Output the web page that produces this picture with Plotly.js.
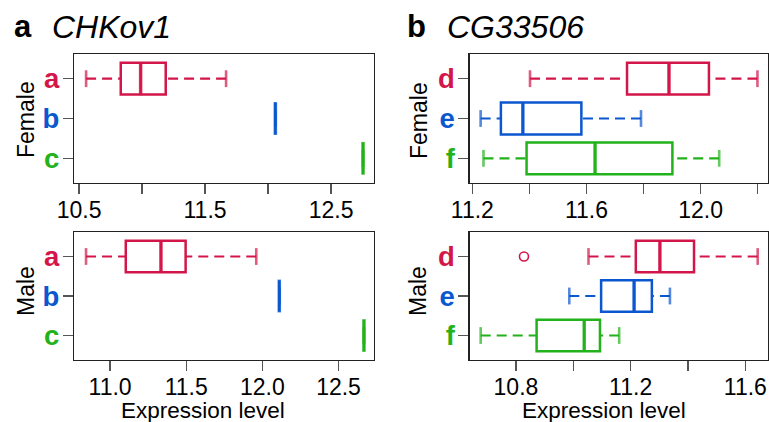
<!DOCTYPE html>
<html><head><meta charset="utf-8">
<script src="https://cdn.plot.ly/plotly-3.0.1.min.js"></script>
<style>html,body{margin:0;padding:0;background:#fff}#chart{width:769px;height:422px}</style>
</head><body><div id="chart"></div>
<script>
// ---------- data ----------
const panelLetters = ['a', 'b'];
const geneNames = ['CHKov1', 'CG33506'];
const sexes = ['Female', 'Male'];
const xTitle = 'Expression level';
const catsA = ['a', 'b', 'c'];
const catsB = ['d', 'e', 'f'];
const catColors = ['#d3164a', '#0b57d0', '#22b21b'];
// box stats per category: [lower whisker, Q1, median, Q3, upper whisker]
const femaleA = [
  [10.556, 10.831, 10.989, 11.188, 11.667],
  [12.058, 12.058, 12.058, 12.058, 12.058],
  [12.754, 12.754, 12.754, 12.754, 12.754]
];
const maleA = [
  [10.842, 11.103, 11.334, 11.496, 11.960],
  [12.111, 12.111, 12.111, 12.111, 12.111],
  [12.667, 12.667, 12.667, 12.667, 12.667]
];
const femaleB = [
  [11.402, 11.742, 11.889, 12.029, 12.199],
  [11.229, 11.300, 11.377, 11.582, 11.791],
  [11.239, 11.390, 11.630, 11.901, 12.065]
];
const maleB = [
  [11.053, 11.218, 11.302, 11.421, 11.643],
  [10.986, 11.097, 11.212, 11.274, 11.337],
  [10.677, 10.872, 11.038, 11.093, 11.160]
];
const outlierMaleB_cat = ['d'];
const outlierMaleB_x = [10.828];
const ticksFemaleA = [10.5, 11.0, 11.5, 12.0, 12.5];
const labelsFemaleA = ['10.5', '', '11.5', '', '12.5'];
const ticksMaleA = [11.0, 11.5, 12.0, 12.5];
const labelsMaleA = ['11.0', '11.5', '12.0', '12.5'];
const ticksFemaleB = [11.2, 11.4, 11.6, 11.8, 12.0, 12.2];
const labelsFemaleB = ['11.2', '', '11.6', '', '12.0', ''];
const ticksMaleB = [10.8, 11.0, 11.2, 11.4, 11.6];
const labelsMaleB = ['10.8', '', '11.2', '', '11.6'];

// ---------- build ----------
const W = 769, H = 422;
const FONT = 'Liberation Sans, Arial, sans-serif';
const traces = [];

function addGroup(stats, cats, xa, ya) {
  cats.forEach((c, i) => {
    const s = stats[i], col = catColors[i];
    traces.push({
      type: 'box', orientation: 'h', y: [i],
      q1: [s[1]], median: [s[2]], q3: [s[3]], lowerfence: [s[1]], upperfence: [s[3]],
      width: 0.8, whiskerwidth: 0, boxpoints: false,
      line: { color: col, width: 2.5 }, fillcolor: 'rgba(0,0,0,0)',
      xaxis: xa, yaxis: ya, hoverinfo: 'skip', showlegend: false
    });
    traces.push({
      type: 'scatter', mode: 'lines',
      x: [s[0], s[1], null, s[4], s[3]], y: [i, i, null, i, i],
      line: { color: col, width: 2.2, dash: '10px,6px' },
      xaxis: xa, yaxis: ya, hoverinfo: 'skip', showlegend: false
    });
    traces.push({
      type: 'scatter', mode: 'markers',
      x: [s[0], s[4], s[2]], y: [i, i, i],
      marker: { symbol: 'line-ns-open', color: col, size: [12, 12, 23.5],
                line: { color: col, width: [2.6, 2.6, 3.6] } },
      xaxis: xa, yaxis: ya, hoverinfo: 'skip', showlegend: false, cliponaxis: false
    });
  });
}
addGroup(femaleA, catsA, 'x', 'y');
addGroup(femaleB, catsB, 'x2', 'y2');
addGroup(maleA, catsA, 'x3', 'y3');
addGroup(maleB, catsB, 'x4', 'y4');
traces.push({
  type: 'scatter', mode: 'markers',
  x: outlierMaleB_x, y: outlierMaleB_cat.map(c => catsB.indexOf(c)),
  marker: { symbol: 'circle-open', size: 9, color: catColors[0], line: { width: 1.6 } },
  xaxis: 'x4', yaxis: 'y4', hoverinfo: 'skip', showlegend: false
});

const domLeft = [74 / W, 374 / W], domRight = [469.5 / W, 768 / W];
const domTop = [1 - 183 / H, 1 - 54 / H], domBot = [1 - 360 / H, 1 - 232 / H];

function makeX(domain, anchor, range, tv, tt) {
  return {
    domain, anchor, range, tickmode: 'array', tickvals: tv, ticktext: tt,
    ticks: 'outside', ticklen: 10, tickwidth: 1.3, tickcolor: '#555',
    ticklabelstandoff: -4,
    showline: true, mirror: true, linecolor: '#222', linewidth: 1.2,
    showgrid: false, zeroline: false,
    tickfont: { family: FONT, size: 23, color: '#000' }, fixedrange: true
  };
}
function makeY(domain, anchor, cats) {
  return {
    domain, anchor, range: [2.62, -0.62], tickmode: 'array',
    tickvals: cats.map((c, i) => i),
    ticktext: cats.map((c, i) => '<span style="color:' + catColors[i] + '"><b>' + c + '</b></span>'),
    ticks: 'outside', ticklen: 10, tickwidth: 1.3, tickcolor: '#555',
    ticklabelstandoff: -2,
    showline: true, mirror: true, linecolor: '#222', linewidth: 1.2,
    showgrid: false, zeroline: false,
    tickfont: { family: FONT, size: 27.5, color: '#000' }, fixedrange: true
  };
}

const ann = [];
function txt(text, px, py, size, opts) {
  ann.push(Object.assign({
    text, x: px / W, y: 1 - py / H, xref: 'paper', yref: 'paper',
    showarrow: false, font: { family: FONT, size, color: '#000' }
  }, opts || {}));
}
// panel titles
txt('<b>' + panelLetters[0] + '</b>', 12, 26.5, 31, { xanchor: 'left', yanchor: 'middle' });
txt('<i>' + geneNames[0] + '</i>', 50, 26.5, 32, { xanchor: 'left', yanchor: 'middle' });
txt('<b>' + panelLetters[1] + '</b>', 405, 26.5, 31, { xanchor: 'left', yanchor: 'middle' });
txt('<i>' + geneNames[1] + '</i>', 445, 26.5, 32, { xanchor: 'left', yanchor: 'middle' });
// sex labels
txt(sexes[0], 26, 120, 23, { textangle: -90, xanchor: 'center', yanchor: 'middle' });
txt(sexes[1], 26, 291, 23, { textangle: -90, xanchor: 'center', yanchor: 'middle' });
txt(sexes[0], 419, 120, 23, { textangle: -90, xanchor: 'center', yanchor: 'middle' });
txt(sexes[1], 418, 291, 23, { textangle: -90, xanchor: 'center', yanchor: 'middle' });
// x titles
txt(xTitle, 203, 410.5, 22.5, { xanchor: 'center', yanchor: 'middle' });
txt(xTitle, 604, 410.5, 22.5, { xanchor: 'center', yanchor: 'middle' });

const layout = {
  width: W, height: H, margin: { l: 0, r: 0, t: 0, b: 0 },
  paper_bgcolor: '#fff', plot_bgcolor: '#fff', showlegend: false, boxmode: 'overlay',
  font: { family: FONT },
  xaxis: makeX(domLeft, 'y', [10.46, 12.841], ticksFemaleA, labelsFemaleA),
  yaxis: makeY(domTop, 'x', catsA),
  xaxis2: makeX(domRight, 'y2', [11.190, 12.236], ticksFemaleB, labelsFemaleB),
  yaxis2: makeY(domTop, 'x2', catsB),
  xaxis3: makeX(domLeft, 'y3', [10.763, 12.733], ticksMaleA, labelsMaleA),
  yaxis3: makeY(domBot, 'x3', catsA),
  xaxis4: makeX(domRight, 'y4', [10.638, 11.679], ticksMaleB, labelsMaleB),
  yaxis4: makeY(domBot, 'x4', catsB),
  annotations: ann
};
Plotly.newPlot('chart', traces, layout, { staticPlot: true, displayModeBar: false });
</script>
</body></html>
